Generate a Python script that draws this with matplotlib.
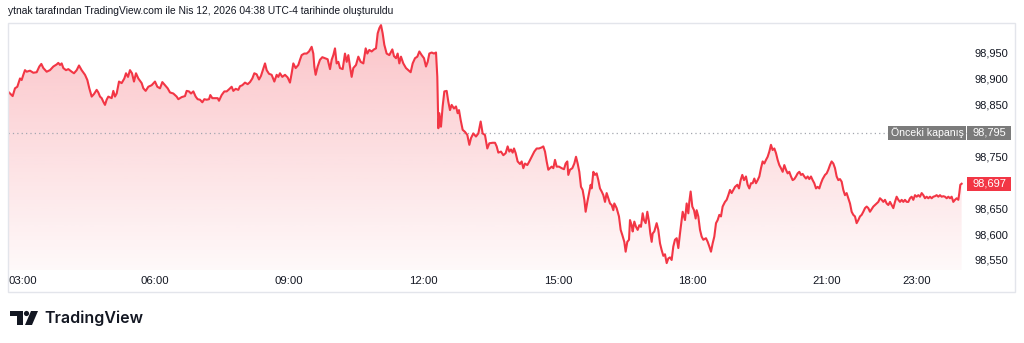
import matplotlib.pyplot as plt
import numpy as np
from matplotlib.patches import Rectangle, Polygon, Ellipse
from matplotlib.transforms import blended_transform_factory, ScaledTranslation

plt.rcParams['font.family'] = ['Liberation Sans', 'DejaVu Sans']

W, H = 1024, 343

# time of day (hours) and price
hours = [
    2.743, 2.825, 2.877, 2.929, 2.967, 2.989, 3.026, 3.063, 3.100, 3.138, 3.212, 3.286, 3.361, 3.420,
    3.465, 3.510, 3.584, 3.658, 3.733, 3.807, 3.844, 3.882, 3.919, 3.956, 4.016, 4.068, 4.142, 4.194,
    4.254, 4.306, 4.365, 4.440, 4.492, 4.536, 4.589, 4.641, 4.700, 4.737, 4.775, 4.812, 4.849, 4.886,
    4.923, 4.960, 5.035, 5.072, 5.109, 5.147, 5.199, 5.258, 5.318, 5.355, 5.400, 5.444, 5.489, 5.533,
    5.578, 5.630, 5.705, 5.742, 5.794, 5.853, 5.928, 6.002, 6.054, 6.114, 6.166,
    6.225, 6.285, 6.337, 6.411, 6.486, 6.523, 6.597, 6.672, 6.709, 6.761, 6.806, 6.858, 6.910, 6.954,
    7.007, 7.059, 7.103, 7.155, 7.208, 7.237, 7.282, 7.341, 7.401, 7.431, 7.490, 7.550, 7.602, 7.654,
    7.713, 7.751, 7.803, 7.862, 7.899, 7.952, 8.011, 8.071, 8.123, 8.175, 8.219, 8.271, 8.324, 8.368,
    8.398, 8.458, 8.495, 8.547, 8.606, 8.666, 8.718, 8.755, 8.792, 8.844, 8.904, 8.963, 9.015, 9.053,
    9.090, 9.142, 9.202, 9.239, 9.276, 9.335, 9.388, 9.440, 9.499, 9.536, 9.559, 9.588, 9.633, 9.685,
    9.737, 9.797, 9.856,
    9.909, 9.946, 9.983, 10.020, 10.057, 10.095, 10.132, 10.191, 10.243, 10.281, 10.318, 10.355, 10.392,
    10.429, 10.489, 10.541, 10.593, 10.653, 10.705, 10.742, 10.786, 10.839, 10.891, 10.935, 10.973,
    11.010, 11.047, 11.084, 11.121, 11.173, 11.233, 11.300, 11.337, 11.382, 11.419, 11.456, 11.493,
    11.545, 11.605, 11.657, 11.709, 11.754, 11.806, 11.858, 11.903, 11.955, 12.007, 12.051, 12.089,
    12.126, 12.178, 12.230, 12.275, 12.304, 12.327, 12.349, 12.386, 12.423, 12.461, 12.513, 12.550,
    12.587, 12.624, 12.676, 12.721, 12.758, 12.788, 12.825, 12.870, 12.922, 12.974, 13.019, 13.056,
    13.108, 13.167, 13.220, 13.272, 13.316, 13.368, 13.420, 13.465, 13.540,
    13.592, 13.629, 13.666, 13.725, 13.778, 13.830, 13.874, 13.911, 13.949, 13.986, 14.016, 14.053,
    14.097, 14.150, 14.187, 14.224, 14.261, 14.313, 14.358, 14.410, 14.469, 14.522, 14.574, 14.633,
    14.670, 14.708, 14.745, 14.782, 14.819, 14.856, 14.894, 14.931, 14.968, 15.020, 15.080, 15.132,
    15.169, 15.206, 15.228, 15.266, 15.318, 15.362, 15.400, 15.437, 15.474, 15.511, 15.548, 15.586,
    15.615, 15.653, 15.690, 15.727, 15.749, 15.787, 15.824, 15.861, 15.898, 15.935, 15.973, 16.010,
    16.047, 16.084, 16.121, 16.159, 16.196, 16.233, 16.255, 16.307, 16.359, 16.397, 16.434, 16.478,
    16.508, 16.545, 16.583, 16.605, 16.642, 16.665, 16.702, 16.739, 16.776, 16.813, 16.850, 16.888,
    16.917, 16.955, 16.992, 17.029, 17.059, 17.089, 17.111, 17.148, 17.200, 17.237,
    17.275, 17.312, 17.349, 17.386, 17.424, 17.461, 17.498, 17.535, 17.572, 17.609, 17.647, 17.684,
    17.721, 17.758, 17.781, 17.810, 17.833, 17.870, 17.907, 17.929, 17.959, 17.996, 18.034, 18.071,
    18.093, 18.130, 18.168, 18.205, 18.242, 18.301, 18.339, 18.376, 18.413, 18.450, 18.487, 18.525,
    18.562, 18.599, 18.636, 18.673, 18.725, 18.763, 18.800, 18.837, 18.874, 18.911, 18.949, 19.001,
    19.038, 19.075, 19.112, 19.150, 19.194, 19.231, 19.269, 19.306, 19.343, 19.380, 19.417, 19.455,
    19.492, 19.529, 19.566, 19.603, 19.641, 19.678, 19.715, 19.752, 19.789, 19.827, 19.864, 19.901,
    19.938, 19.975, 20.013, 20.050, 20.087, 20.124, 20.161, 20.199, 20.236, 20.273, 20.310, 20.347,
    20.385, 20.422, 20.459, 20.496, 20.533, 20.571, 20.608, 20.645, 20.682, 20.719, 20.757, 20.794,
    20.831, 20.868, 20.905,
    20.958, 20.995, 21.032, 21.069, 21.106, 21.144, 21.181, 21.218, 21.255, 21.292, 21.330, 21.367,
    21.404, 21.441, 21.478, 21.516, 21.553, 21.590, 21.627, 21.664, 21.702, 21.739, 21.776, 21.813,
    21.851, 21.888, 21.925, 21.962, 21.999, 22.037, 22.074, 22.111, 22.148, 22.185, 22.223, 22.260,
    22.297, 22.334, 22.371, 22.409, 22.446, 22.483, 22.520, 22.557, 22.595, 22.632, 22.669, 22.706,
    22.743, 22.781, 22.818, 22.855, 22.892, 22.929, 22.967, 23.004, 23.041, 23.078, 23.116, 23.153,
    23.190, 23.227, 23.264, 23.302, 23.339, 23.376, 23.413, 23.450, 23.488, 23.525, 23.562, 23.599,
    23.636, 23.674, 23.711, 23.748, 23.785, 23.822, 23.860, 23.897, 23.934, 23.956, 23.978, 24.008,
]

prices = [
    98.873, 98.866, 98.881, 98.884, 98.894, 98.900, 98.897, 98.907, 98.916, 98.913, 98.915, 98.911, 98.912, 98.923,
    98.928, 98.920, 98.913, 98.916, 98.923, 98.927, 98.930, 98.926, 98.929, 98.920, 98.916, 98.918, 98.913, 98.910,
    98.916, 98.925, 98.916, 98.907, 98.897, 98.881, 98.865, 98.870, 98.878, 98.873, 98.865, 98.862, 98.855, 98.849,
    98.859, 98.865, 98.862, 98.876, 98.865, 98.871, 98.894, 98.891, 98.900, 98.910, 98.903, 98.916, 98.910, 98.894,
    98.910, 98.900, 98.891, 98.881, 98.876, 98.884, 98.887, 98.894, 98.884, 98.881, 98.893,
    98.887, 98.881, 98.873, 98.871, 98.865, 98.860, 98.864, 98.866, 98.876, 98.875, 98.871, 98.875, 98.865, 98.860,
    98.859, 98.854, 98.860, 98.859, 98.860, 98.868, 98.862, 98.862, 98.862, 98.857, 98.868, 98.875, 98.875, 98.879,
    98.884, 98.876, 98.880, 98.878, 98.885, 98.887, 98.892, 98.889, 98.893, 98.900, 98.910, 98.908, 98.898, 98.905,
    98.913, 98.929, 98.916, 98.909, 98.907, 98.894, 98.907, 98.903, 98.910, 98.903, 98.907, 98.902, 98.892, 98.910,
    98.929, 98.920, 98.926, 98.936, 98.945, 98.948, 98.948, 98.952, 98.961, 98.948, 98.923, 98.907, 98.923, 98.936,
    98.941, 98.939, 98.937,
    98.918, 98.936, 98.945, 98.958, 98.929, 98.932, 98.920, 98.918, 98.948, 98.932, 98.945, 98.923, 98.903,
    98.920, 98.926, 98.942, 98.932, 98.929, 98.958, 98.948, 98.955, 98.952, 98.956, 98.958, 98.987,
    98.997, 99.003, 98.987, 98.965, 98.948, 98.945, 98.956, 98.943, 98.939, 98.948, 98.929, 98.942,
    98.929, 98.920, 98.916, 98.912, 98.929, 98.939, 98.942, 98.952, 98.945, 98.939, 98.923, 98.932,
    98.948, 98.950, 98.948, 98.950, 98.903, 98.804, 98.833, 98.807, 98.846, 98.875, 98.876, 98.855,
    98.839, 98.849, 98.842, 98.846, 98.833, 98.839, 98.820, 98.801, 98.797, 98.791, 98.772, 98.785,
    98.794, 98.788, 98.794, 98.817, 98.794, 98.791, 98.765, 98.775, 98.776,
    98.776, 98.769, 98.757, 98.759, 98.752, 98.756, 98.769, 98.759, 98.763, 98.757, 98.765, 98.756,
    98.740, 98.735, 98.740, 98.727, 98.736, 98.733, 98.740, 98.749, 98.759, 98.765, 98.765, 98.767,
    98.769, 98.759, 98.740, 98.724, 98.727, 98.730, 98.727, 98.743, 98.730, 98.730, 98.727, 98.725,
    98.736, 98.740, 98.714, 98.724, 98.727, 98.736, 98.749, 98.736, 98.720, 98.691, 98.685, 98.666,
    98.643, 98.662, 98.679, 98.695, 98.688, 98.720, 98.714, 98.717, 98.704, 98.688, 98.682, 98.675,
    98.662, 98.679, 98.669, 98.659, 98.656, 98.646, 98.659, 98.650, 98.634, 98.608, 98.598, 98.585,
    98.566, 98.585, 98.589, 98.627, 98.617, 98.605, 98.624, 98.614, 98.608, 98.617, 98.614, 98.640,
    98.627, 98.621, 98.643, 98.624, 98.601, 98.585, 98.601, 98.605, 98.621, 98.608,
    98.582, 98.569, 98.558, 98.561, 98.544, 98.553, 98.555, 98.550, 98.576, 98.589, 98.592, 98.573,
    98.601, 98.627, 98.643, 98.634, 98.627, 98.659, 98.640, 98.662, 98.682, 98.653, 98.646, 98.630,
    98.646, 98.634, 98.608, 98.595, 98.589, 98.592, 98.585, 98.576, 98.566, 98.582, 98.595, 98.621,
    98.627, 98.637, 98.634, 98.653, 98.662, 98.666, 98.675, 98.685, 98.679, 98.685, 98.691, 98.695,
    98.688, 98.704, 98.714, 98.704, 98.711, 98.695, 98.688, 98.698, 98.698, 98.707, 98.698, 98.704,
    98.711, 98.727, 98.740, 98.736, 98.743, 98.749, 98.759, 98.772, 98.762, 98.765, 98.756, 98.743,
    98.733, 98.727, 98.720, 98.733, 98.724, 98.717, 98.720, 98.711, 98.704, 98.706, 98.711, 98.717,
    98.720, 98.714, 98.716, 98.711, 98.707, 98.711, 98.706, 98.711, 98.704, 98.698, 98.688, 98.691,
    98.688, 98.698, 98.706,
    98.714, 98.717, 98.724, 98.733, 98.740, 98.736, 98.727, 98.711, 98.704, 98.706, 98.701, 98.685,
    98.675, 98.679, 98.669, 98.659, 98.643, 98.637, 98.634, 98.621, 98.627, 98.634, 98.637, 98.643,
    98.650, 98.653, 98.650, 98.643, 98.648, 98.653, 98.656, 98.659, 98.662, 98.669, 98.666, 98.662,
    98.666, 98.659, 98.656, 98.662, 98.656, 98.650, 98.662, 98.672, 98.666, 98.662, 98.666, 98.662,
    98.666, 98.662, 98.662, 98.669, 98.672, 98.666, 98.675, 98.672, 98.675, 98.672, 98.679, 98.675,
    98.669, 98.672, 98.669, 98.672, 98.669, 98.672, 98.673, 98.675, 98.672, 98.675, 98.672, 98.673,
    98.672, 98.669, 98.672, 98.669, 98.672, 98.662, 98.666, 98.669, 98.666, 98.679, 98.695, 98.697,
]

prev_close = 98.795
last_price = 98.697

price_ticks = [98.55, 98.60, 98.65, 98.75, 98.85, 98.90, 98.95]
time_ticks = [3, 6, 9, 12, 15, 18, 21, 23]
time_labels = ['03:00', '06:00', '09:00', '12:00', '15:00', '18:00', '21:00', '23:00']

header = 'ytnak tarafından TradingView.com ile Nis 12, 2026 04:38 UTC-4 tarihinde oluşturuldu'

RED = '#f23645'
GREY_BADGE = '#7b7b7b'
TXT = '#131722'


def fx(x):
    return x / W


def fy(y):
    return 1 - y / H


def fmt_price(v):
    return ('%.3f' % v).replace('.', ',')


fig = plt.figure(figsize=(W / 100, H / 100), dpi=100)
fig.patch.set_facecolor('white')

ax = fig.add_axes([fx(8), fy(270), (968 - 8) / W, (270 - 23) / H])
xmin, xmax = 2.721, 24.15
ymin, ymax = 98.5307, 99.0069

# gradient area under the line
grad = np.zeros((256, 1, 4))
grad[..., 0] = 242 / 255
grad[..., 1] = 54 / 255
grad[..., 2] = 69 / 255
grad[..., 3] = np.linspace(0.30, 0.03, 256).reshape(-1, 1)
im = ax.imshow(grad, extent=[xmin, xmax, ymin, ymax], aspect='auto', origin='upper', zorder=1)
verts = [(hours[0], ymin)] + list(zip(hours, prices)) + [(hours[-1], ymin)]
clip = Polygon(verts, closed=True, transform=ax.transData)
im.set_clip_path(clip)

ax.plot(hours, prices, color=RED, lw=1.5, solid_joinstyle='round', zorder=3)
ax.axhline(prev_close, color='#a3a6af', lw=0.9, ls=(0, (1, 2.5)), zorder=2)

ax.set_xlim(xmin, xmax)
ax.set_ylim(ymin, ymax)
for s in ax.spines.values():
    s.set_visible(False)

ax.yaxis.tick_right()
ax.set_yticks(price_ticks)
ax.set_yticklabels([fmt_price(v) for v in price_ticks])
ax.tick_params(axis='y', length=0, pad=5, labelsize=8, labelcolor=TXT)
ax.set_xticks(time_ticks)
ax.set_xticklabels(time_labels)
ax.tick_params(axis='x', length=0, pad=4, labelsize=8.2, labelcolor=TXT)
# first time label is nudged right so it stays inside the frame
first = ax.get_xticklabels()[0]
first.set_transform(first.get_transform() + ScaledTranslation(2 / 100, 0, fig.dpi_scale_trans))

# outer frame
fig.add_artist(Rectangle((fx(8), fy(292)), (1015 - 8) / W, (292 - 23) / H, fill=False,
                         edgecolor='#e3e5eb', lw=1, transform=fig.transFigure))

# price badges on the right scale
trans = blended_transform_factory(fig.transFigure, ax.transData)
hh = 7 * (ymax - ymin) / (270 - 23)
fig.add_artist(Rectangle((fx(888), prev_close - hh), (966 - 888) / W, 2 * hh,
                         facecolor=GREY_BADGE, edgecolor='none', transform=trans))
fig.add_artist(Rectangle((fx(967), prev_close - hh), (1011 - 967) / W, 2 * hh,
                         facecolor=GREY_BADGE, edgecolor='none', transform=trans))
fig.text(fx(927), prev_close, 'Önceki kapanış', transform=trans, ha='center', va='center',
         fontsize=7.6, color='white')
fig.text(fx(989), prev_close, fmt_price(prev_close), transform=trans, ha='center', va='center',
         fontsize=8, color='white')
fig.add_artist(Rectangle((fx(967), last_price - hh), (1011 - 967) / W, 2 * hh,
                         facecolor=RED, edgecolor='none', transform=trans))
fig.text(fx(989), last_price, fmt_price(last_price), transform=trans, ha='center', va='center',
         fontsize=8, color='white')

# header
fig.text(fx(8), fy(11), header, ha='left', va='center', fontsize=7.4, color=TXT)

# TradingView logo
fig.add_artist(Polygon([(fx(10), fy(311)), (fx(23), fy(311)), (fx(23), fy(325)), (fx(17), fy(325)),
                        (fx(17), fy(316)), (fx(10), fy(316))], closed=True, facecolor=TXT,
                       edgecolor='none', transform=fig.transFigure))
fig.add_artist(Ellipse((fx(26.5), fy(313.5)), 5.2 / W, 5.2 / H, facecolor=TXT, edgecolor='none',
                       transform=fig.transFigure))
fig.add_artist(Polygon([(fx(31), fy(311)), (fx(38), fy(311)), (fx(32), fy(325)), (fx(25), fy(325))],
                       closed=True, facecolor=TXT, edgecolor='none', transform=fig.transFigure))
fig.text(fx(44), fy(318), 'TradingView', ha='left', va='center', fontsize=11.5,
         fontweight='semibold', family=['Inter', 'DejaVu Sans'], color=TXT)

plt.savefig('out.png', dpi=100)
